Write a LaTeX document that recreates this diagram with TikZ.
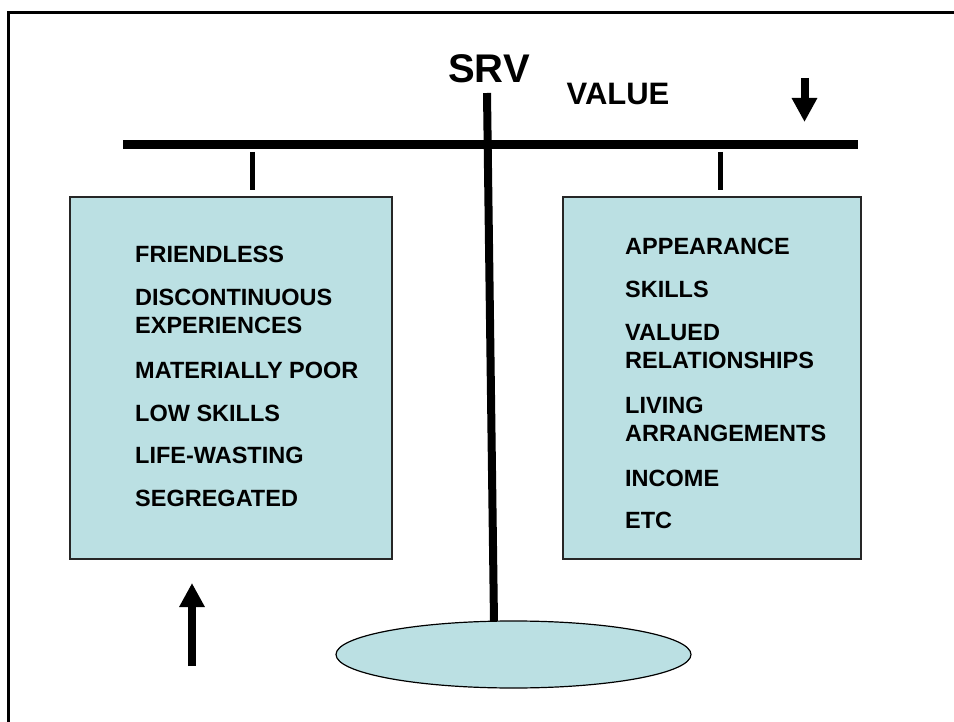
\documentclass[tikz,border=0pt]{standalone}
\usepackage{fontspec}
\setmainfont{Liberation Sans}
\usetikzlibrary{arrows.meta,shapes.geometric}
\definecolor{boxfill}{HTML}{BBE0E3}
\tikzset{
  panel/.style={draw=black!85, line width=1.5pt, fill=boxfill},
  item/.style={anchor=base west, inner sep=0pt, font=\bfseries\fontsize{23.5}{28}\selectfont},
  bar/.style={line width=9pt},
  hanger/.style={line width=5pt},
  bigarrow/.style={line width=8pt, -{Triangle[width=24pt,length=24pt]}},
}
\begin{document}
\begin{tikzpicture}[x=1pt,y=-1pt]
\useasboundingbox (0,0) rectangle (954,722);
% frame
\draw[line width=3pt] (8.5,722) -- (8.5,12.5) -- (954,12.5);
% beam and hangers
\draw[bar] (123,144.5) -- (858,144.5);
\draw[hanger] (252,152) -- (252,190);
\draw[hanger] (720,152) -- (720,190);
% pole and base
\draw[line width=8pt] (487,93) -- (494,622);
\node[draw=black, line width=1.2pt, fill=boxfill, ellipse, minimum width=355pt, minimum height=67pt, inner sep=0pt] (base) at (513.5,654.5) {};
% boxes
\draw[panel] (70,197) rectangle (392,559);
\draw[panel] (563,197) rectangle (861,559);
% labels
\node[anchor=base, inner sep=0pt, font=\bfseries\fontsize{40}{44}\selectfont] (srv) at (489,83) {SRV};
\node[anchor=base, inner sep=0pt, font=\bfseries\fontsize{31}{34}\selectfont] (value) at (618,105) {VALUE};
% left items
\node[item] (l1) at (135,263) {FRIENDLESS};
\node[item] (l2) at (135,306) {DISCONTINUOUS};
\node[item] (l2b) at (135,334) {EXPERIENCES};
\node[item] (l3) at (135,378) {MATERIALLY POOR};
\node[item] (l4) at (135,421) {LOW SKILLS};
\node[item] (l5) at (135,463) {LIFE-WASTING};
\node[item] (l6) at (135,506) {SEGREGATED};
% right items
\node[item] (r1) at (625,255) {APPEARANCE};
\node[item] (r2) at (625,298) {SKILLS};
\node[item] (r3) at (625,341) {VALUED};
\node[item] (r3b) at (625,369) {RELATIONSHIPS};
\node[item] (r4) at (625,413) {LIVING};
\node[item] (r4b) at (625,441) {ARRANGEMENTS};
\node[item] (r5) at (625,486) {INCOME};
\node[item] (r6) at (625,528) {ETC};
% arrows
\coordinate (dtop) at (804.5,78);
\coordinate (dtip) at (804.5,122);
\coordinate (ubot) at (192,666);
\coordinate (utip) at (192,583);
\draw[bigarrow] (dtop) -- (dtip);
\draw[bigarrow] (ubot) -- (utip);
\end{tikzpicture}
\end{document}
